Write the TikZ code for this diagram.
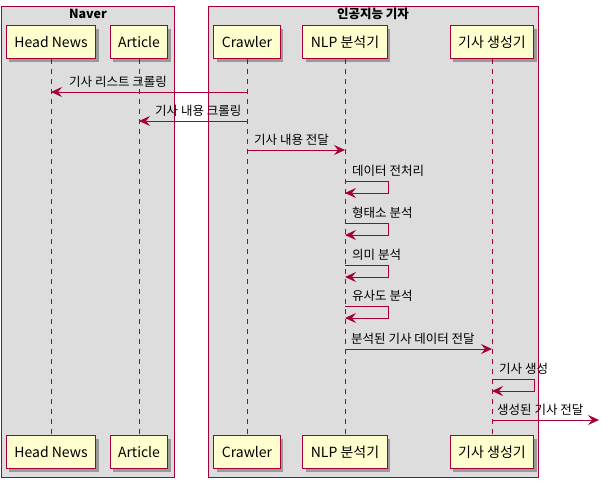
\documentclass[tikz,border=0pt]{standalone}
\usepackage{fontspec}
\setmainfont{Noto Sans CJK KR}
\usetikzlibrary{positioning,arrows.meta,shadows}
\definecolor{umlred}{HTML}{A80036}
\definecolor{umlfill}{HTML}{FEFECE}
\definecolor{umlgroup}{HTML}{DDDDDD}

\begin{document}
\begin{tikzpicture}[x=1pt,y=-1pt,
    every node/.style={font=\fontsize{12.5}{14}\selectfont},
    actor/.style={draw=umlred, fill=umlfill, line width=1pt, minimum height=33pt,
        inner xsep=8pt, font=\fontsize{14}{16}\selectfont,
        drop shadow={shadow xshift=3pt, shadow yshift=-3pt, fill=black, opacity=.3}},
    group/.style={draw=umlred, fill=umlgroup, line width=1pt},
    life/.style={umlred, dash pattern=on 5pt off 5pt, line width=.8pt},
    msg/.style={umlred, line width=1pt, -{Stealth[length=11pt,width=10pt,inset=4pt]}},
    lbl/.style={anchor=base west, inner sep=0pt}]
    \useasboundingbox (0,0) rectangle (601,482);

    % Group boxes
    \draw[group] (1,6) rectangle (174,477);
    \draw[group] (208,6) rectangle (538,477);
    \node (gnaver) at (88,14) {\bfseries Naver};
    \node (gai) at (373,14) {\bfseries 인공지능 기자};

    % Participants, top and bottom
    \foreach \n/\x/\t in {hn/51/Head News, ar/139/Article, cr/247/Crawler,
                          nlp/345/NLP 분석기, gen/492/기사 생성기} {
        \node[actor] (\n) at (\x,42) {\t};
        \node[actor] (\n b) at (\x,452) {\t};
        \draw[life] (\n) -- (\n b);
    }

    % Crawling
    \draw[msg] (cr |- 0,92) -- (hn |- 0,92);
    \node[lbl] (m1) at (69,86) {기사 리스트 크롤링};
    \draw[msg] (cr |- 0,121) -- (ar |- 0,121);
    \node[lbl] (m2) at (155,115) {기사 내용 크롤링};
    \draw[msg] (cr |- 0,150) -- (nlp |- 0,150);
    \node[lbl] (m3) at (254,144) {기사 내용 전달};

    % Analysis steps (self messages)
    \foreach \y/\t in {181/데이터 전처리, 223/형태소 분석, 265/의미 분석, 306/유사도 분석} {
        \draw[msg] (nlp |- 0,\y) -- ++(43,0) |- ([yshift=-12pt]nlp |- 0,\y);
        \node[lbl] at (352,\y-6) {\t};
    }

    % Generation
    \draw[msg] (nlp |- 0,349) -- (gen |- 0,349);
    \node[lbl] (m8) at (351,343) {분석된 기사 데이터 전달};
    \draw[msg] (gen |- 0,379) -- ++(42,0) |- ([yshift=-12pt]gen |- 0,379);
    \node[lbl] (m9) at (499,373) {기사 생성};
    \coordinate (out) at (599,420);
    \draw[msg] (gen |- out) -- (out);
    \node[lbl] (m10) at (497,414) {생성된 기사 전달};

\end{tikzpicture}
\end{document}
